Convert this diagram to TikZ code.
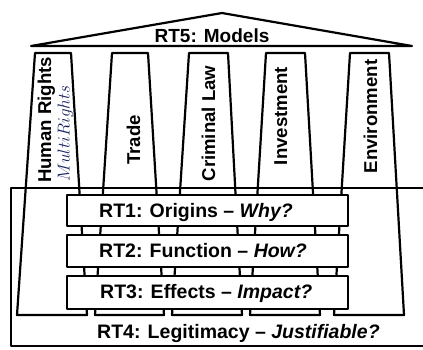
\documentclass[tikz,border=0pt]{standalone}
\usepackage{fontspec}
\setmainfont{Liberation Sans}
\definecolor{navy}{RGB}{22,34,95}
\begin{document}
\begin{tikzpicture}[x=1pt,y=-1pt,
  edge/.style={draw=black,line width=2.2pt,line join=round},
  lbl/.style={inner sep=0pt,font=\fontsize{19.5}{22}\selectfont\bfseries},
  collbl/.style={inner sep=0pt,rotate=90,font=\fontsize{18.6}{21}\selectfont\bfseries},
  rtbox/.style={edge,fill=white}]
\useasboundingbox (0,0) rectangle (423,349);
% RT4 frame
\draw[edge] (430,188) -- (11,188) -- (11,346) -- (430,346);
% roof
\draw[edge] (31,46) -- (222,13) -- (412,46) -- cycle;
\node[lbl,anchor=base,font=\fontsize{19}{22}\selectfont\bfseries] (rt5) at (212,42.7) {RT5: Models};
% columns
\draw[edge] (17,315) -- (35,53) -- (71,53) -- (87,315) -- cycle;
\draw[edge] (95,315) -- (112,53) -- (148,53) -- (164,315) -- cycle;
\draw[edge] (172,315) -- (189,53) -- (228,53) -- (242,315) -- cycle;
\draw[edge] (250,315) -- (266,53) -- (305,53) -- (320,315) -- cycle;
\draw[edge] (334,315) -- (350,53) -- (389,53) -- (404,315) -- cycle;
% column labels
\node[collbl,anchor=base west] (hr) at (51,183) {Human Rights};
\node[inner sep=0pt,rotate=90,anchor=base west,text=navy,font=\fontsize{17.5}{21}\selectfont] (mr) at (69.5,182) {$MultiRights$};
\node[collbl,anchor=base] (trade) at (140,140) {Trade};
\node[collbl,anchor=base] (crim) at (215,123.5) {Criminal Law};
\node[collbl,anchor=base] (inv) at (287,116) {Investment};
\node[collbl,anchor=base] (env) at (377,116.5) {Environment};
% boxes
\draw[rtbox] (67,195) rectangle (348,226);
\draw[rtbox] (67,235) rectangle (348,267);
\draw[rtbox] (67,276) rectangle (348,309);
\node[lbl,anchor=base west] (rt1) at (99,217.3) {RT1: Origins -- \textit{Why?}};
\node[lbl,anchor=base west] (rt2) at (99,257.3) {RT2: Function -- \textit{How?}};
\node[lbl,anchor=base west] (rt3) at (100,298.3) {RT3: Effects -- \textit{Impact?}};
\node[lbl,anchor=base west] (rt4) at (97,338.3) {RT4: Legitimacy -- \textit{Justifiable?}};
\end{tikzpicture}
\end{document}
